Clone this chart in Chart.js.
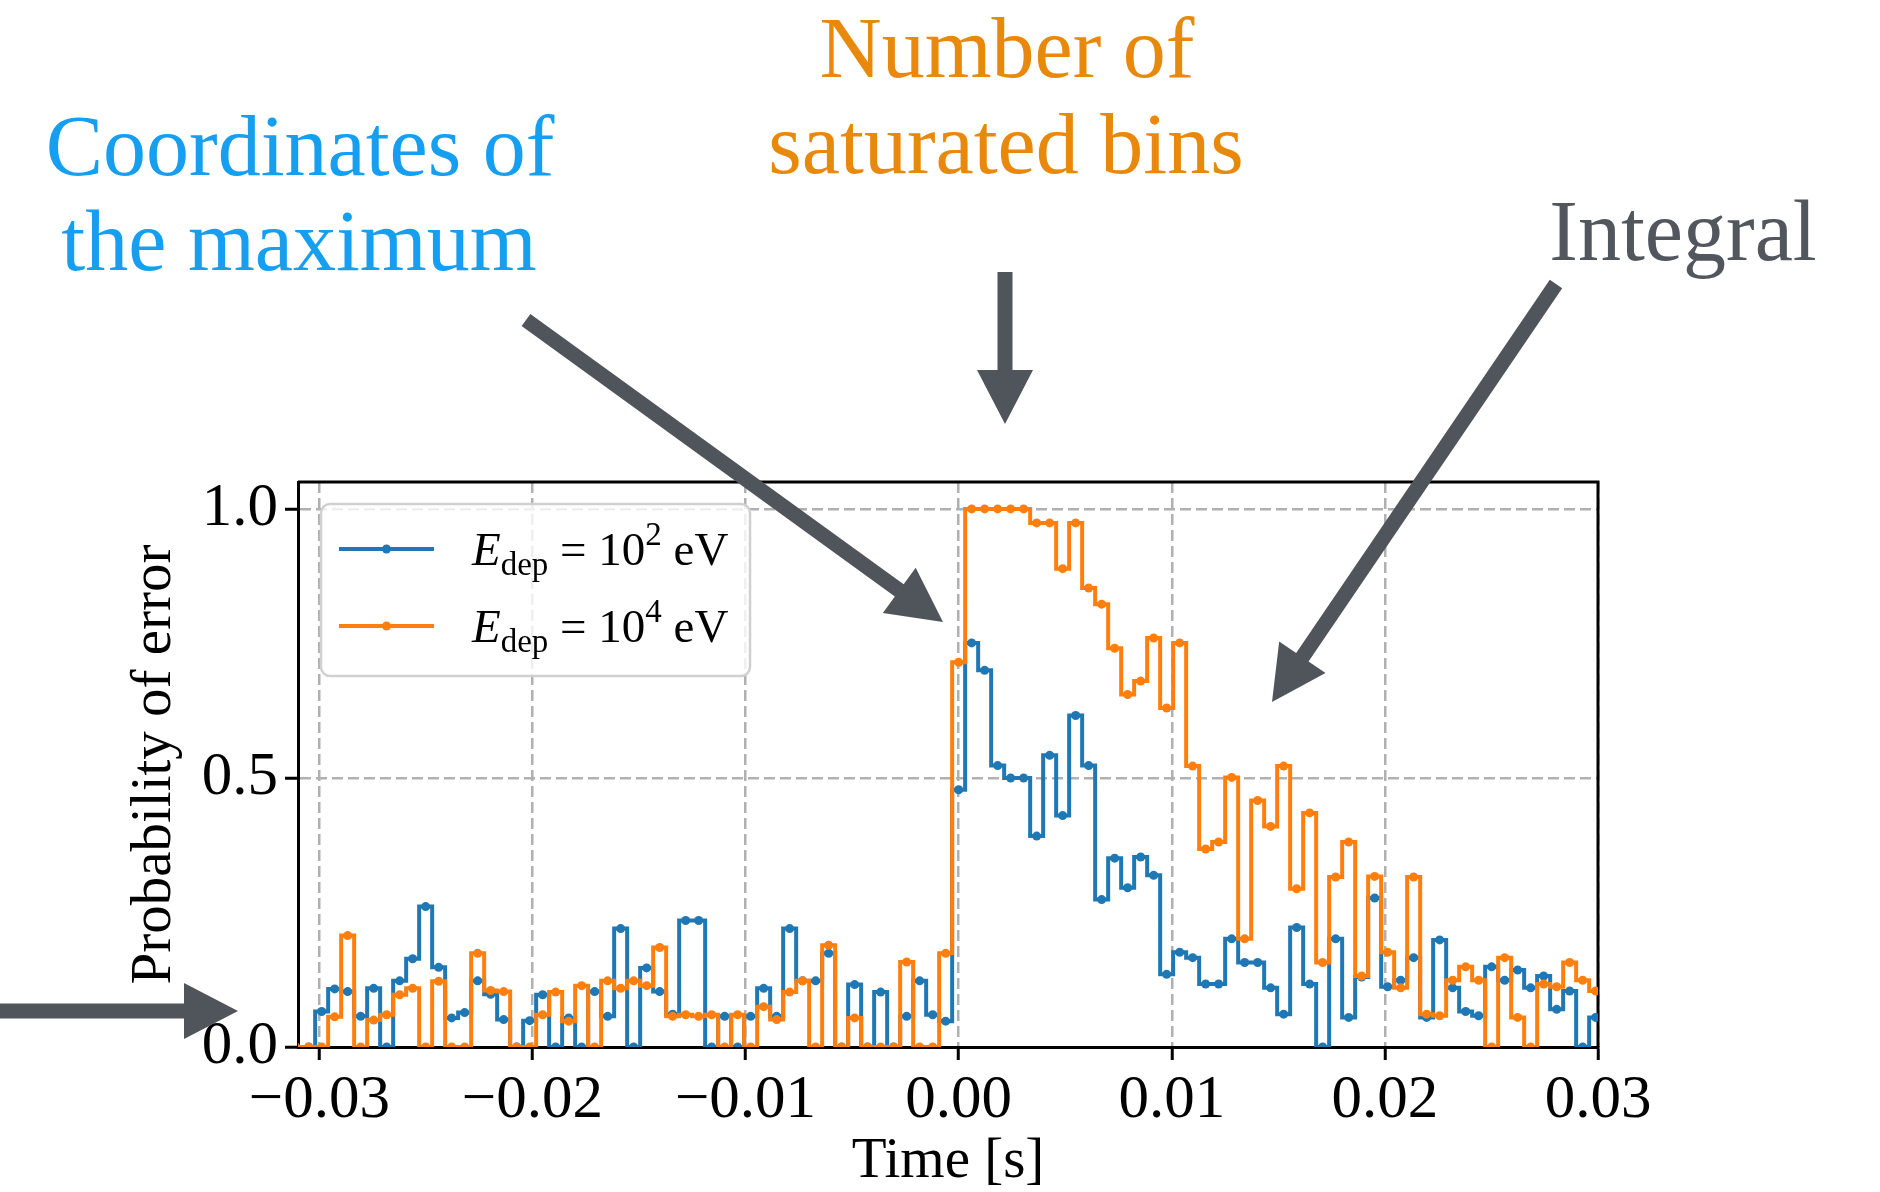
<!DOCTYPE html>
<html lang="en">
<head>
    <meta charset="UTF-8">
    <title>Probability of error</title>
    <script src="https://cdn.jsdelivr.net/npm/chart.js"></script>
    <style>
        html, body { margin: 0; padding: 0; background: #fff; }
        #wrap { width: 1880px; height: 1192px; position: relative; }
    </style>
</head>
<body>
    <div id="wrap"><canvas id="errorChart"></canvas></div>
    <script>
        // bin centres [s]
        const times = [
            -0.03111, -0.0305, -0.02989, -0.02928, -0.02867, -0.02806, -0.02745, -0.02684, -0.02623, -0.02562,
            -0.02501, -0.0244, -0.02379, -0.02318, -0.02257, -0.02196, -0.02135, -0.02074, -0.02013, -0.01952,
            -0.01891, -0.0183, -0.01769, -0.01708, -0.01647, -0.01586, -0.01525, -0.01464, -0.01403, -0.01342,
            -0.01281, -0.0122, -0.01159, -0.01098, -0.01037, -0.00976, -0.00915, -0.00854, -0.00793, -0.00732,
            -0.00671, -0.0061, -0.00549, -0.00488, -0.00427, -0.00366, -0.00305, -0.00244, -0.00183, -0.00122,
            -0.00061, 0, 0.00061, 0.00122, 0.00183, 0.00244, 0.00305, 0.00366, 0.00427, 0.00488,
            0.00549, 0.0061, 0.00671, 0.00732, 0.00793, 0.00854, 0.00915, 0.00976, 0.01037, 0.01098,
            0.01159, 0.0122, 0.01281, 0.01342, 0.01403, 0.01464, 0.01525, 0.01586, 0.01647, 0.01708,
            0.01769, 0.0183, 0.01891, 0.01952, 0.02013, 0.02074, 0.02135, 0.02196, 0.02257, 0.02318,
            0.02379, 0.0244, 0.02501, 0.02562, 0.02623, 0.02684, 0.02745, 0.02806, 0.02867, 0.02928,
            0.02989
        ];

        // E_dep = 10^2 eV
        const probLow = [
            0, 0, 0.066, 0.108, 0.103, 0.057, 0.109, 0, 0.123, 0.164,
            0.261, 0.148, 0.054, 0.064, 0.123, 0.098, 0.051, 0, 0.049, 0.097,
            0, 0.054, 0, 0.103, 0.057, 0.220, 0, 0.147, 0.103, 0.061,
            0.235, 0.235, 0, 0.057, 0, 0.057, 0.109, 0.057, 0.220, 0.123,
            0.123, 0.174, 0, 0.116, 0, 0.102, 0, 0.057, 0.123, 0.060,
            0.048, 0.478, 0.751, 0.700, 0.523, 0.500, 0.500, 0.392, 0.542, 0.430,
            0.616, 0.523, 0.274, 0.351, 0.296, 0.353, 0.319, 0.135, 0.176, 0.166,
            0.117, 0.117, 0.201, 0.157, 0.157, 0.110, 0.061, 0.222, 0.117, 0,
            0.201, 0.055, 0.130, 0.277, 0.112, 0.124, 0.166, 0.055, 0.199, 0.110,
            0.066, 0.058, 0.149, 0.124, 0.143, 0.110, 0.132, 0.070, 0.104, 0,
            0.055
        ];

        // E_dep = 10^4 eV
        const probHigh = [
            0, 0, 0, 0.056, 0.207, 0, 0.050, 0.060, 0.097, 0.109,
            0, 0.122, 0, 0, 0.174, 0.105, 0.103, 0, 0, 0.060,
            0.102, 0.048, 0.114, 0, 0.123, 0.109, 0.123, 0.114, 0.185, 0.057,
            0.060, 0.057, 0.060, 0, 0.060, 0, 0.075, 0.051, 0.102, 0.123,
            0, 0.189, 0, 0.054, 0, 0, 0, 0.158, 0, 0,
            0.174, 0.715, 1.0, 1.0, 1.0, 1.0, 1.0, 0.974, 0.974, 0.889,
            0.974, 0.853, 0.823, 0.741, 0.655, 0.680, 0.760, 0.630, 0.751, 0.522,
            0.368, 0.381, 0.501, 0.201, 0.458, 0.410, 0.522, 0.294, 0.435, 0.157,
            0.316, 0.381, 0.132, 0.317, 0.176, 0.110, 0.316, 0.061, 0.058, 0.124,
            0.149, 0.124, 0, 0.166, 0.055, 0, 0.117, 0.112, 0.157, 0.124,
            0.104
        ];

        const seriesExponents = ['2', '4'];
        const xTicks = [-0.03, -0.02, -0.01, 0, 0.01, 0.02, 0.03];
        const yTicks = [0, 0.5, 1.0];

        const BLUE = '#1f77b4';
        const ORANGE = '#ff7f0e';
        const SERIF = '"Liberation Serif", "Times New Roman", serif';

        function toPoints(ys) {
            return times.map((t, i) => ({ x: t, y: ys[i] }));
        }

        function arrow(ctx, x0, y0, x1, y1) {
            const w = 15, hw = 56, hl = 54;
            const a = Math.atan2(y1 - y0, x1 - x0);
            const L = Math.hypot(x1 - x0, y1 - y0);
            ctx.save();
            ctx.translate(x0, y0);
            ctx.rotate(a);
            ctx.beginPath();
            ctx.moveTo(0, -w / 2);
            ctx.lineTo(L - hl, -w / 2);
            ctx.lineTo(L - hl, -hw / 2);
            ctx.lineTo(L, 0);
            ctx.lineTo(L - hl, hw / 2);
            ctx.lineTo(L - hl, w / 2);
            ctx.lineTo(0, w / 2);
            ctx.closePath();
            ctx.fill();
            ctx.restore();
        }

        function legendRow(ctx, y, color, exponent) {
            ctx.strokeStyle = color;
            ctx.lineWidth = 4;
            ctx.beginPath();
            ctx.moveTo(339, y);
            ctx.lineTo(434, y);
            ctx.stroke();
            ctx.fillStyle = color;
            ctx.beginPath();
            ctx.arc(386.5, y, 4.5, 0, 2 * Math.PI);
            ctx.fill();

            let x = 472;
            const base = y + 16;
            ctx.fillStyle = '#000';
            ctx.textAlign = 'left';
            ctx.textBaseline = 'alphabetic';
            const piece = (txt, font, dy) => {
                ctx.font = font;
                ctx.fillText(txt, x, base + dy);
                x += ctx.measureText(txt).width;
            };
            piece('E', 'italic 47px ' + SERIF, 0);
            piece('dep', '33px ' + SERIF, 10);
            piece(' = 10', '47px ' + SERIF, 0);
            piece(exponent, '33px ' + SERIF, -20);
            piece(' eV', '47px ' + SERIF, 0);
        }

        const decor = {
            id: 'decor',
            beforeDatasetsDraw(chart) {
                const { ctx, chartArea: a } = chart;
                ctx.save();
                ctx.strokeStyle = '#000';
                ctx.lineWidth = 3;
                ctx.beginPath();
                ctx.moveTo(a.left, a.top);
                ctx.lineTo(a.right, a.top);
                ctx.lineTo(a.right, a.bottom);
                ctx.stroke();
                ctx.restore();
            },
            afterDraw(chart) {
                const ctx = chart.ctx;
                ctx.save();

                // legend
                ctx.beginPath();
                ctx.roundRect(321, 504, 429, 172, 9);
                ctx.fillStyle = 'rgba(255,255,255,0.8)';
                ctx.fill();
                ctx.strokeStyle = '#d0d0d0';
                ctx.lineWidth = 2.5;
                ctx.stroke();
                legendRow(ctx, 549, BLUE, seriesExponents[0]);
                legendRow(ctx, 626, ORANGE, seriesExponents[1]);

                // annotations
                ctx.font = '86px ' + SERIF;
                ctx.textAlign = 'center';
                ctx.textBaseline = 'alphabetic';
                ctx.fillStyle = '#169ff0';
                ctx.fillText('Coordinates of', 300, 175);
                ctx.fillText('the maximum', 299, 270);
                ctx.fillStyle = '#e8890c';
                ctx.fillText('Number of', 1007, 77);
                ctx.fillText('saturated bins', 1006, 173);
                ctx.fillStyle = '#52575d';
                ctx.fillText('Integral', 1683, 260);

                ctx.fillStyle = '#50555b';
                arrow(ctx, 526, 320, 943, 622);
                arrow(ctx, 1005, 272, 1005, 424);
                arrow(ctx, 1556, 284, 1272, 702);
                arrow(ctx, 0, 1011, 238, 1011);
                ctx.restore();
            }
        };

        const tickFont = { family: SERIF, size: 61 };
        const titleFont = { family: SERIF, size: 57, lineHeight: 1.05 };

        new Chart(document.getElementById('errorChart'), {
            type: 'line',
            data: {
                datasets: [
                    {
                        label: 'E_dep = 10^2 eV',
                        data: toPoints(probLow),
                        borderColor: BLUE,
                        backgroundColor: BLUE,
                        borderWidth: 4,
                        stepped: 'middle',
                        pointRadius: 4.5,
                        pointBorderWidth: 0,
                        pointBackgroundColor: BLUE,
                        order: 2
                    },
                    {
                        label: 'E_dep = 10^4 eV',
                        data: toPoints(probHigh),
                        borderColor: ORANGE,
                        backgroundColor: ORANGE,
                        borderWidth: 4,
                        stepped: 'middle',
                        pointRadius: 4.5,
                        pointBorderWidth: 0,
                        pointBackgroundColor: ORANGE,
                        order: 1
                    }
                ]
            },
            options: {
                responsive: true,
                maintainAspectRatio: false,
                animation: false,
                devicePixelRatio: 1,
                layout: { padding: { top: 482, right: 282, left: 0, bottom: 0 } },
                plugins: {
                    legend: { display: false },
                    tooltip: { enabled: false }
                },
                scales: {
                    x: {
                        type: 'linear',
                        min: -0.031,
                        max: 0.030,
                        afterBuildTicks: s => { s.ticks = xTicks.map(v => ({ value: v })); },
                        afterFit: s => { s.height = 145; },
                        ticks: {
                            font: tickFont,
                            color: '#000',
                            padding: 4,
                            maxRotation: 0,
                            autoSkip: false,
                            callback: v => (v < -1e-9 ? '\u2212' : '') + Math.abs(v).toFixed(2)
                        },
                        grid: { color: '#b0b0b0', lineWidth: 2.5, tickColor: '#000', tickWidth: 3, tickLength: 13 },
                        border: { display: true, color: '#000', width: 3, dash: [11, 5] },
                        title: { display: true, text: 'Time [s]', font: titleFont, color: '#000', padding: { top: 0, bottom: 0 } }
                    },
                    y: {
                        min: 0,
                        max: 1.05,
                        afterBuildTicks: s => { s.ticks = yTicks.map(v => ({ value: v })); },
                        afterFit: s => { s.width = 298; },
                        ticks: {
                            font: tickFont,
                            color: '#000',
                            padding: 7,
                            callback: v => v.toFixed(1)
                        },
                        grid: { color: '#b0b0b0', lineWidth: 2.5, tickColor: '#000', tickWidth: 3, tickLength: 13 },
                        border: { display: true, color: '#000', width: 3, dash: [11, 5] },
                        title: { display: true, text: 'Probability of error', font: titleFont, color: '#000', padding: { top: 125, bottom: 0 } }
                    }
                }
            },
            plugins: [decor]
        });
    </script>
</body>
</html>
